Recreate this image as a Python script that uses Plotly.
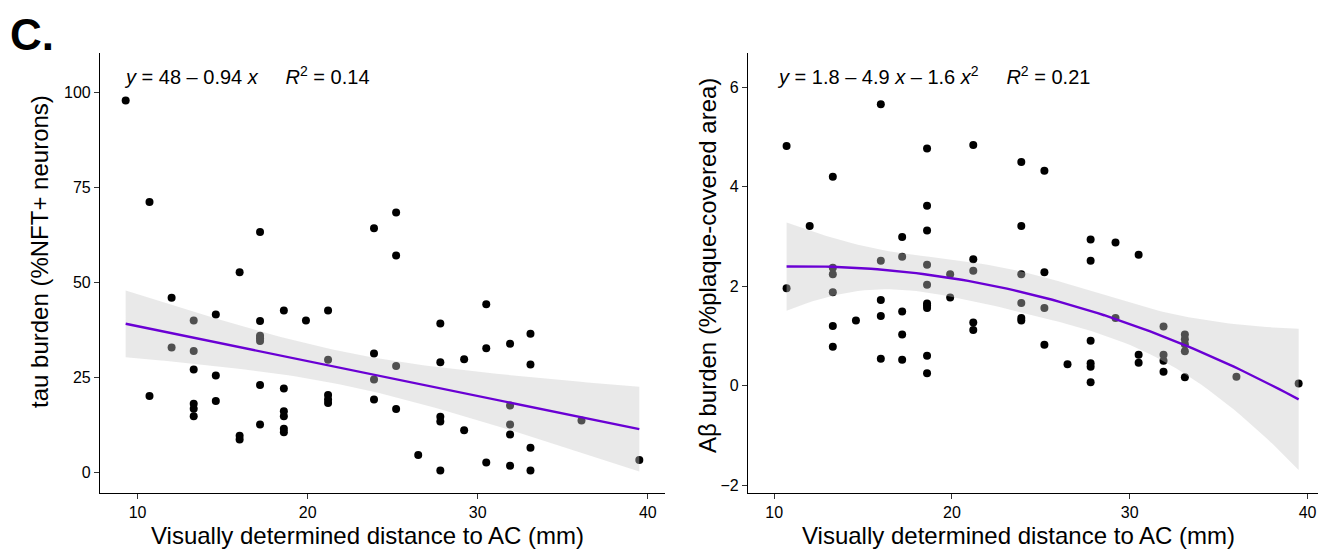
import numpy as np
import plotly.graph_objects as go

# ---------------- data ----------------
tau_x = [9.3, 10.7, 10.7, 12.0, 12.0,
         13.3, 13.3, 13.3, 13.3, 13.3, 13.3,
         14.6, 14.6, 14.6,
         16.0, 16.0, 16.0,
         17.2, 17.2, 17.2, 17.2, 17.2, 17.2, 17.2,
         18.6, 18.6, 18.6, 18.6, 18.6, 18.6,
         19.9,
         21.2, 21.2, 21.2, 21.2, 21.2,
         23.9, 23.9, 23.9, 23.9,
         25.2, 25.2, 25.2, 25.2,
         26.5,
         27.8, 27.8, 27.8, 27.8, 27.8,
         29.2, 29.2,
         30.5, 30.5, 30.5,
         31.9, 31.9, 31.9, 31.9, 31.9,
         33.1, 33.1, 33.1, 33.1,
         36.1,
         39.5]
tau_y = [97.8, 71.1, 20.0, 45.9, 32.8,
         39.9, 31.9, 27.0, 18.0, 16.7, 14.7,
         41.5, 25.4, 18.7,
         52.6, 9.6, 8.6,
         63.2, 39.8, 35.9, 35.2, 34.5, 22.9, 12.5,
         42.5, 22.0, 16.0, 14.7, 11.4, 10.5,
         39.9,
         42.5, 29.6, 20.3, 19.1, 18.2,
         64.2, 31.2, 24.4, 19.1,
         68.3, 57.0, 27.9, 16.6,
         4.5,
         39.1, 28.9, 14.6, 13.3, 0.4,
         29.7, 11.0,
         44.2, 32.6, 2.5,
         33.8, 17.5, 12.5, 9.9, 1.7,
         36.4, 28.3, 6.4, 0.4,
         13.6,
         3.2]

ab_x = [10.7, 10.7,
        12.0,
        13.3, 13.3, 13.3, 13.3, 13.3, 13.3,
        14.6,
        16.0, 16.0, 16.0, 16.0, 16.0,
        17.2, 17.2, 17.2, 17.2, 17.2,
        18.6, 18.6, 18.6, 18.6, 18.6, 18.6, 18.6, 18.6, 18.6, 18.6,
        19.9, 19.9,
        21.2, 21.2, 21.2, 21.2, 21.2,
        23.9, 23.9, 23.9, 23.9, 23.9, 23.9,
        25.2, 25.2, 25.2, 25.2,
        26.5,
        27.8, 27.8, 27.8, 27.8, 27.8, 27.8,
        29.2, 29.2,
        30.5, 30.5, 30.5,
        31.9, 31.9, 31.9, 31.9,
        33.1, 33.1, 33.1, 33.1, 33.1,
        36.0,
        39.5]
ab_y = [4.82, 1.96,
        3.21,
        4.20, 2.37, 2.24, 1.88, 1.20, 0.78,
        1.31,
        5.66, 2.51, 1.72, 1.40, 0.54,
        2.99, 2.59, 1.49, 1.03, 0.52,
        4.77, 3.62, 3.12, 2.43, 2.03, 1.65, 1.61, 1.56, 0.60, 0.25,
        2.24, 1.77,
        4.84, 2.54, 2.31, 1.27, 1.12,
        4.50, 3.21, 2.24, 1.66, 1.36, 1.31,
        4.32, 2.28, 1.56, 0.82,
        0.43,
        2.94, 2.51, 0.90, 0.45, 0.38, 0.07,
        2.88, 1.36,
        2.63, 0.62, 0.46,
        1.19, 0.62, 0.50, 0.28,
        1.03, 0.93, 0.83, 0.69, 0.17,
        0.18,
        0.04]

x_ticks = [10, 20, 30, 40]
tau_ticks = [0, 25, 50, 75, 100]
ab_ticks = [-2, 0, 2, 4, 6]

SP = "\u00a0" * 5
eq_left = "<i>y</i> = 48 \u2013 0.94 <i>x</i>" + SP + "<i>R</i><sup>2</sup> = 0.14"
eq_right = ("<i>y</i> = 1.8 \u2013 4.9 <i>x</i> \u2013 1.6 <i>x</i><sup>2</sup>" + SP
            + "<i>R</i><sup>2</sup> = 0.21")
x_title = "Visually determined distance to AC (mm)"
tau_title = "tau burden (%NFT+ neurons)"
ab_title = "A\u03b2 burden (%plaque-covered area)"

T_CRIT = 1.998  # ~ t(0.975, df ~ 65)


def poly_fit_band(x, y, deg, n_grid=80):
    x = np.asarray(x, float)
    y = np.asarray(y, float)
    X = np.vander(x, deg + 1, increasing=True)
    beta, *_ = np.linalg.lstsq(X, y, rcond=None)
    resid = y - X @ beta
    dof = len(x) - (deg + 1)
    s2 = resid @ resid / dof
    cov = s2 * np.linalg.inv(X.T @ X)
    xg = np.linspace(x.min(), x.max(), n_grid)
    Xg = np.vander(xg, deg + 1, increasing=True)
    yg = Xg @ beta
    se = np.sqrt(np.einsum("ij,jk,ik->i", Xg, cov, Xg))
    return xg, yg, yg - T_CRIT * se, yg + T_CRIT * se


# page body has an 8px margin: lay out in screen pixels and compensate
OFF = 8
W, H = 1318, 544


def fx(p):
    return (p - OFF) / W


def fy(p):
    return 1 - (p - OFF) / H


FONT = "Arial, 'Liberation Sans', sans-serif"
LINE_COL = "#6A00D4"
RIB_COL = "rgba(200,200,200,0.4)"

fig = go.Figure()

panels = [
    (tau_x, tau_y, 1, "x", "y"),
    (ab_x, ab_y, 2, "x2", "y2"),
]
for px, py, deg, xa, ya in panels:
    fig.add_trace(go.Scatter(x=px, y=py, mode="markers", xaxis=xa, yaxis=ya,
                             marker=dict(color="black", size=8), showlegend=False,
                             hoverinfo="skip"))
    xg, yg, lo, hi = poly_fit_band(px, py, deg)
    fig.add_trace(go.Scatter(x=np.concatenate([xg, xg[::-1]]),
                             y=np.concatenate([hi, lo[::-1]]),
                             fill="toself", fillcolor=RIB_COL, mode="lines",
                             line=dict(width=0, color="rgba(0,0,0,0)"),
                             xaxis=xa, yaxis=ya, showlegend=False, hoverinfo="skip"))
    fig.add_trace(go.Scatter(x=xg, y=yg, mode="lines", xaxis=xa, yaxis=ya,
                             line=dict(color=LINE_COL, width=2.4), showlegend=False,
                             hoverinfo="skip"))

PTOP, PBOT = 53, 493
ydom = [fy(PBOT), fy(PTOP)]
axis_common = dict(showline=True, linecolor="black", linewidth=1.1, mirror=False,
                   ticks="outside", ticklen=5, tickwidth=1, tickcolor="#333333",
                   showgrid=False, zeroline=False,
                   tickfont=dict(family=FONT, size=16, color="black"))

fig.update_layout(
    width=W, height=H,
    margin=dict(l=0, r=0, t=0, b=0),
    paper_bgcolor="white", plot_bgcolor="white",
    font=dict(family=FONT, color="black"),
    xaxis=dict(domain=[fx(100), fx(665)], range=[7.79, 41.01],
               tickvals=x_ticks, anchor="y", **axis_common),
    yaxis=dict(domain=ydom, range=[-5.5, 110.3], tickvals=tau_ticks,
               anchor="x", **axis_common),
    xaxis2=dict(domain=[fx(748), fx(1320)], range=[8.53, 40.7],
                tickvals=x_ticks, anchor="y2", **axis_common),
    yaxis2=dict(domain=ydom, range=[-2.16, 6.69], tickvals=ab_ticks,
                anchor="x2", **axis_common),
)


def txt(text, x, y, size, xanchor="center", yanchor="middle", xref="paper", angle=0):
    return dict(text=text, x=x, y=y, xref=xref, yref="paper", xanchor=xanchor,
                yanchor=yanchor, showarrow=False, textangle=angle,
                font=dict(size=size, family=FONT, color="black"))


ann = [
    txt("<b>C.</b>", fx(8), 1.0, 44, xanchor="left", yanchor="top"),
    txt(eq_left, 9.06, fy(75), 20, xanchor="left", xref="x"),
    txt(eq_right, 10.05, fy(75), 20, xanchor="left", xref="x2"),
    txt(x_title, fx(368), fy(535), 24),
    txt(x_title, fx(1018), fy(535), 24),
    txt(tau_title, fx(40), fy(252), 24, angle=-90),
    txt(ab_title, fx(707), fy(266), 24, angle=-90),
]
fig.update_layout(annotations=ann)

fig.write_html("out.html")
